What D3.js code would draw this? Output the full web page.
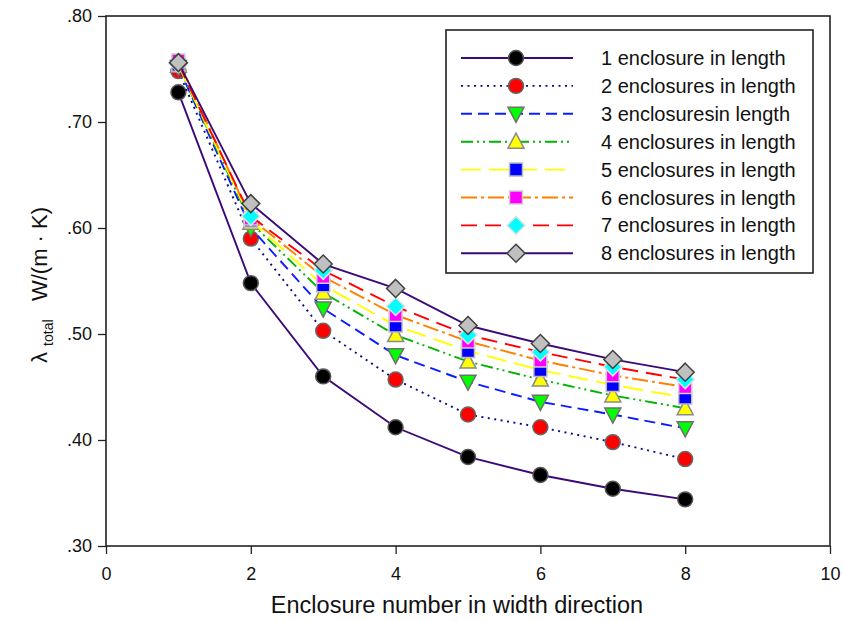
<!DOCTYPE html>
<html><head><meta charset="utf-8">
<script src="https://cdn.jsdelivr.net/npm/d3@7"></script>
<style>body{margin:0;background:#fff;} text{font-family:"Liberation Sans",Arial,sans-serif;}</style>
</head><body><svg id="c" width="843" height="621"></svg>
<script>
const xValues = [1,2,3,4,5,6,7,8];
const seriesNames = ["1 enclosure in length","2 enclosures in length","3 enclosuresin length","4 enclosures in length","5 enclosures in length","6 enclosures in length","7 enclosures in length","8 enclosures in length"];
const s1 = [0.728,0.548,0.460,0.412,0.384,0.367,0.354,0.344];
const s2 = [0.748,0.590,0.503,0.457,0.424,0.412,0.398,0.382];
const s3 = [0.752,0.600,0.524,0.480,0.455,0.436,0.424,0.411];
const s4 = [0.753,0.605,0.539,0.499,0.474,0.457,0.442,0.430];
const s5 = [0.754,0.607,0.546,0.508,0.484,0.466,0.452,0.440];
const s6 = [0.758,0.609,0.554,0.518,0.493,0.475,0.461,0.450];
const s7 = [0.755,0.611,0.560,0.526,0.499,0.483,0.469,0.457];
const s8 = [0.756,0.623,0.566,0.543,0.508,0.491,0.476,0.464];
const xTicks = [0,2,4,6,8,10];
const yTicks = [0.30,0.40,0.50,0.60,0.70,0.80];
const yTickLabels = [".30",".40",".50",".60",".70",".80"];

const allSeries = [s1,s2,s3,s4,s5,s6,s7,s8];
const styles = [
  {line:"#3c0a78", dash:null, sym:"circle", fill:"#000000", stroke:"#555555"},
  {line:"#0a0a8c", dash:"2,4.5", sym:"circle", fill:"#ff0000", stroke:"#666666"},
  {line:"#0a1eff", dash:"11,6", sym:"tridown", fill:"#00ff00", stroke:"#707070"},
  {line:"#00b400", dash:"12,4,2,4,2,4", sym:"triup", fill:"#ffff00", stroke:"#8a8a8a"},
  {line:"#ffff00", dash:"20,8", sym:"square", fill:"#0000ff", stroke:"#bdbdbd"},
  {line:"#ff8000", dash:"16,4,3,4", sym:"square", fill:"#ff00ff", stroke:"#d0d0d0"},
  {line:"#ff0000", dash:"16,8", sym:"diamond", fill:"#00ffff", stroke:"#e0e0e0"},
  {line:"#3c0a78", dash:null, sym:"diamond", fill:"#c0c0c0", stroke:"#404040"}
];

const svg = d3.select("#c");
const L=106, R=830, T=16, B=546;
const x = d3.scaleLinear().domain([0,10]).range([L,R]);
const y = d3.scaleLinear().domain([0.30,0.80]).range([B,T]);

function symbolPath(kind){
  if(kind==="circle") return d3.symbol(d3.symbolCircle, 175)();
  if(kind==="square") return "M-6.5,-6.5H6.5V6.5H-6.5Z";
  if(kind==="diamond") return "M0,-9L9,0L0,9L-9,0Z";
  if(kind==="triup") return "M0,-8.5L8,6.5L-8,6.5Z";
  if(kind==="tridown") return "M0,8.5L8,-6.5L-8,-6.5Z";
}

// frame
svg.append("rect").attr("x",L).attr("y",T).attr("width",R-L).attr("height",B-T)
  .attr("fill","none").attr("stroke","#222").attr("stroke-width",1.6);

// axes
const yAxis = d3.axisLeft(y).tickValues(yTicks).tickFormat((d,i)=>yTickLabels[i]).tickSize(8).tickPadding(6);
const gy = svg.append("g").attr("transform",`translate(${L},0)`).call(yAxis);
gy.select(".domain").remove();
gy.selectAll("line").attr("stroke","#222").attr("stroke-width",1.3);
gy.selectAll("text").attr("font-size","18px").attr("fill","#111").attr("font-family","Liberation Sans, Arial");

const xAxis = d3.axisBottom(x).tickValues(xTicks).tickFormat(d3.format("d")).tickSize(8).tickPadding(13);
const gx = svg.append("g").attr("transform",`translate(0,${B})`).call(xAxis);
gx.select(".domain").remove();
gx.selectAll("line").attr("stroke","#222").attr("stroke-width",1.3);
gx.selectAll("text").attr("font-size","18px").attr("fill","#111").attr("font-family","Liberation Sans, Arial");

// axis titles
svg.append("text").attr("x",457).attr("y",613).attr("text-anchor","middle")
  .attr("font-size","23.5px").attr("fill","#111").text("Enclosure number in width direction");
const yl = svg.append("text").attr("transform","translate(47,285) rotate(-90)").attr("text-anchor","middle")
  .attr("font-size","22px").attr("fill","#111").attr("xml:space","preserve");
yl.append("tspan").text("λ ");
yl.append("tspan").attr("font-size","14px").attr("dy",6).text("total");
yl.append("tspan").attr("dy",-6).text("\u00a0\u00a0\u00a0W/(m · K)");

// series
const line = d3.line().x((d,i)=>x(xValues[i])).y(d=>y(d));
allSeries.forEach((s,k)=>{
  const st = styles[k];
  const g = svg.append("g");
  g.append("path").datum(s).attr("d",line).attr("fill","none").attr("stroke",st.line)
    .attr("stroke-width",1.9).attr("stroke-dasharray",st.dash);
  g.selectAll("path.m").data(s).enter().append("path").attr("class","m")
    .attr("d",symbolPath(st.sym))
    .attr("transform",(d,i)=>`translate(${x(xValues[i])},${y(d)})`)
    .attr("fill",st.fill).attr("stroke",st.stroke).attr("stroke-width",1.5);
});

// legend
const lg = svg.append("g");
lg.append("rect").attr("x",446).attr("y",30).attr("width",367).attr("height",243)
  .attr("fill","#fff").attr("stroke","#222").attr("stroke-width",1.6);
seriesNames.forEach((name,k)=>{
  const st = styles[k];
  const yy = 58 + k*27.9;
  lg.append("line").attr("x1",461).attr("x2",573).attr("y1",yy).attr("y2",yy)
    .attr("stroke",st.line).attr("stroke-width",1.9).attr("stroke-dasharray",st.dash);
  lg.append("path").attr("d",symbolPath(st.sym)).attr("transform",`translate(516,${yy})`)
    .attr("fill",st.fill).attr("stroke",st.stroke).attr("stroke-width",1.5);
  lg.append("text").attr("x",601).attr("y",yy+7).attr("font-size","20px").attr("fill","#111").text(name);
});
</script></body></html>
